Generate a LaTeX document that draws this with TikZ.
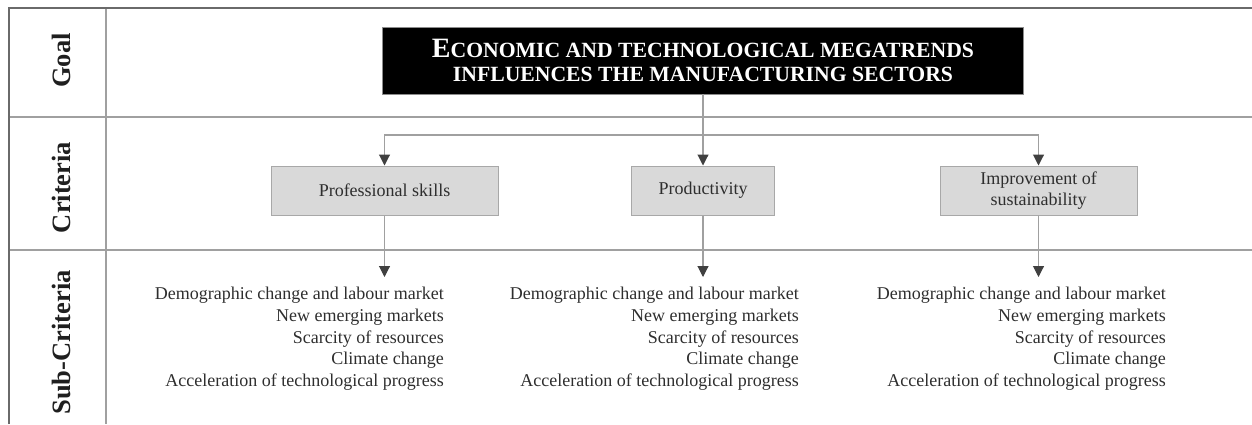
\documentclass[tikz,border=0pt]{standalone}
\usepackage{fontspec}
\setmainfont{Liberation Serif}
\usetikzlibrary{arrows.meta}
\definecolor{framegray}{HTML}{6A6A6A}
\definecolor{rulegray}{HTML}{A0A0A0}
\definecolor{boxfill}{HTML}{D9D9D9}
\definecolor{boxedge}{HTML}{A8A8A8}
\definecolor{tipgray}{HTML}{404040}
\definecolor{inkgray}{HTML}{2E2E2E}
\begin{document}
\begin{tikzpicture}[x=1pt,y=-1pt,
  rowlabel/.style={rotate=90,anchor=base,inner sep=0pt,
    font=\fontsize{26.5}{30}\selectfont\bfseries,text=black!88},
  goalbox/.style={draw=black!45,fill=black,line width=0.8pt,inner sep=0pt,
    minimum width=641pt,minimum height=67pt,align=center,text=white,
    font=\fontsize{21.7}{24}\selectfont\bfseries},
  critbox/.style={draw=boxedge,fill=boxfill,line width=1pt,inner sep=0pt,
    minimum height=49pt,align=center,text=inkgray,
    font=\fontsize{18}{21.5}\selectfont},
  sublist/.style={anchor=north east,inner sep=0pt,align=right,text=inkgray,
    font=\fontsize{18}{21.7}\selectfont},
  outerrule/.style={draw=framegray,line width=2.4pt},
  innerrule/.style={draw=rulegray,line width=2pt},
  link/.style={draw=rulegray,line width=1.1pt},
  linkarrow/.style={link,-{Triangle[width=11pt,length=11pt,color=tipgray]}}]

\useasboundingbox (0,0) rectangle (1252,424);

% table frame and rows
\draw[innerrule] (9,117) -- (1252,117);
\draw[innerrule] (9,250) -- (1252,250);
\draw[innerrule] (106,8) -- (106,424);
\draw[outerrule] (9,424) -- (9,8) -- (1252,8);

% row headings
\node[rowlabel] (lgoal) at (70,60.5) {Goal};
\node[rowlabel] (lcrit) at (70,187.5) {Criteria};
\node[rowlabel] (lsub)  at (70,342.5) {Sub-Criteria};

% goal
\node[goalbox] (goal) at (703,60.5)
  {{\fontsize{28}{24}\selectfont E}CONOMIC AND TECHNOLOGICAL MEGATRENDS\\
   INFLUENCES THE MANUFACTURING SECTORS};

% criteria
\node[critbox,minimum width=227pt] (prof) at (384.5,190.5) {Professional skills};
\node[critbox,minimum width=143pt] (prod) at (703,190.5) {Productivity};
\node[critbox,minimum width=197pt] (impr) at (1038.5,190.5) {Improvement of\\sustainability};

% sub-criteria lists
\node[sublist] (sub1) at (444,287) {Demographic change and labour market\\New emerging markets\\Scarcity of resources\\Climate change\\Acceleration of technological progress};
\node[sublist] (sub2) at (799,287) {Demographic change and labour market\\New emerging markets\\Scarcity of resources\\Climate change\\Acceleration of technological progress};
\node[sublist] (sub3) at (1166,287) {Demographic change and labour market\\New emerging markets\\Scarcity of resources\\Climate change\\Acceleration of technological progress};

% connectors from goal to criteria
\coordinate (busL) at (prof.north |- 0,135);
\coordinate (busR) at (impr.north |- 0,135);
\draw[linkarrow] (goal.south) -- (prod.north);
\draw[linkarrow] (busR) -- (busL) -- (prof.north);
\draw[linkarrow] (busR) -- (impr.north);

% connectors from criteria to sub-criteria
\coordinate (tip1) at (prof.south |- 0,277);
\coordinate (tip2) at (prod.south |- 0,277);
\coordinate (tip3) at (impr.south |- 0,277);
\draw[linkarrow] (prof.south) -- (tip1);
\draw[linkarrow] (prod.south) -- (tip2);
\draw[linkarrow] (impr.south) -- (tip3);
\end{tikzpicture}
\end{document}
